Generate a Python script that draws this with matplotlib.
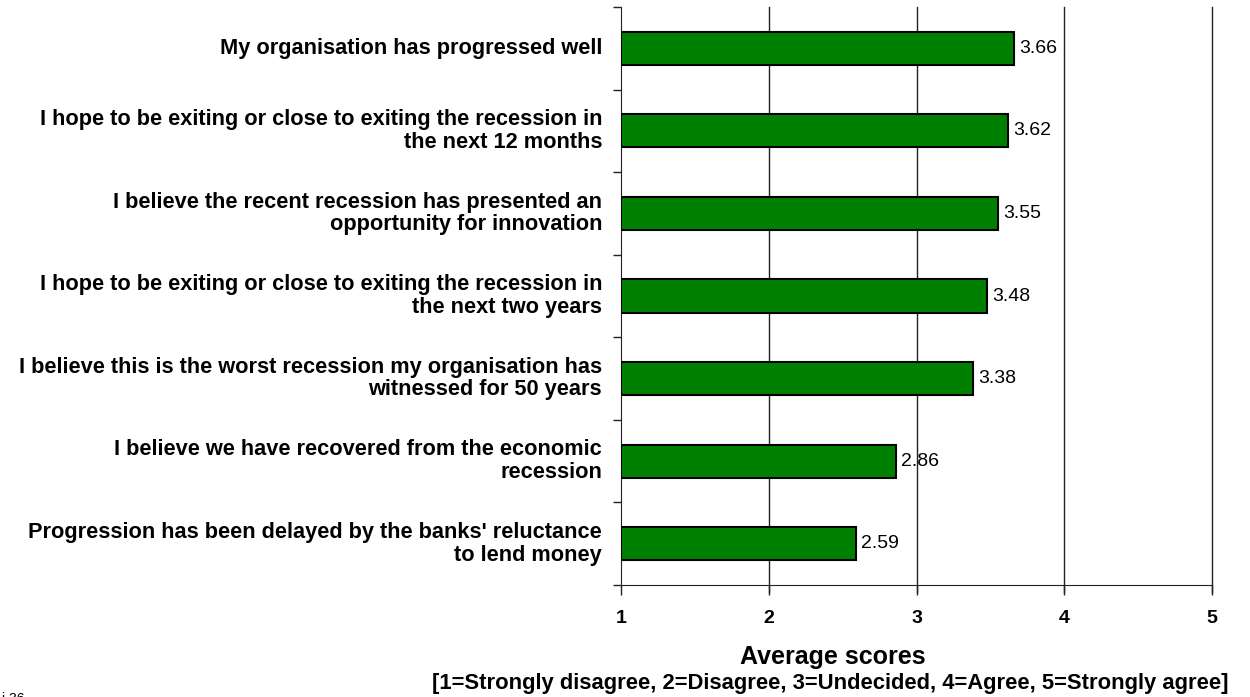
import matplotlib.pyplot as plt

plt.rcParams['font.family'] = ['Liberation Sans', 'DejaVu Sans']

statements = [
    "My organisation has progressed well",
    "I hope to be exiting or close to exiting the recession in\nthe next 12 months",
    "I believe the recent recession has presented an\nopportunity for innovation",
    "I hope to be exiting or close to exiting the recession in\nthe next two years",
    "I believe this is the worst recession my organisation has\nwitnessed for 50 years",
    "I believe we have recovered from the economic\nrecession",
    "Progression has been delayed by the banks' reluctance\nto lend money",
]
scores = [3.66, 3.62, 3.55, 3.48, 3.38, 2.86, 2.59]
x_ticks = [1, 2, 3, 4, 5]

fig = plt.figure(figsize=(12.5, 6.97), dpi=100)
ax = fig.add_axes([621 / 1250, 1 - 585 / 697, 591 / 1250, 578 / 697])

pos = list(range(len(scores)))
ax.barh(pos, [s - 1 for s in scores], left=1, height=0.4,
        color='#008000', edgecolor='black', linewidth=1.5, zorder=3)

for p, s in zip(pos, scores):
    ax.text(s + 0.035, p, f"{s:.2f}", va='center', ha='left', fontsize=14, zorder=4)

ax.set_xlim(1, 5)
ax.set_ylim(len(scores) - 0.5, -0.5)

# vertical gridlines run a little below the axis, like tick marks
for t in x_ticks[1:]:
    ax.plot([t, t], [-0.5, len(scores) - 0.5 + 0.085], color='#222222', lw=1,
            clip_on=False, zorder=1)

ax.set_xticks(x_ticks)
ax.set_xticklabels([str(t) for t in x_ticks], fontweight='bold', fontsize=14)
ax.tick_params(axis='x', length=7, width=1, pad=11, color='#222222')

ax.set_yticks([p - 0.5 for p in pos] + [len(scores) - 0.5])
ax.set_yticklabels([])
ax.tick_params(axis='y', length=6, width=1, color='#222222')
for p, lab in zip(pos, statements):
    ax.text(-0.032, p, lab, transform=ax.get_yaxis_transform(), ha='right', va='center',
            fontsize=15.7, fontweight='bold', linespacing=1.1)

for side in ['top', 'right']:
    ax.spines[side].set_visible(False)
ax.spines['left'].set_color('#222222')
ax.spines['bottom'].set_color('#222222')

fig.text(833 / 1250, 1 - 657 / 697, "Average scores", ha='center', va='center',
         fontsize=18, fontweight='bold')
fig.text(830 / 1250, 1 - 684 / 697,
         "[1=Strongly disagree, 2=Disagree, 3=Undecided, 4=Agree, 5=Strongly agree]",
         ha='center', va='center', fontsize=15.8, fontweight='bold')
fig.text(2 / 1250, -9 / 697, "i 36", ha='left', va='bottom', fontsize=10)

fig.savefig('out.png', dpi=100)
